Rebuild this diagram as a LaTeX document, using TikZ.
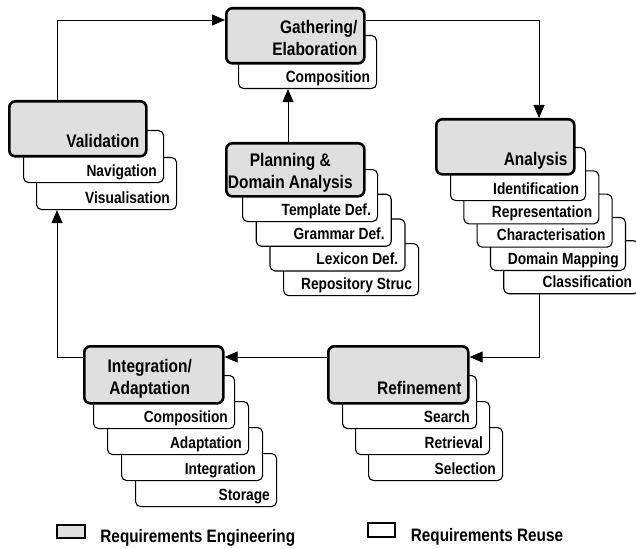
\documentclass[tikz,border=0pt]{standalone}
\usepackage{fontspec}
\setmainfont{Liberation Sans}[FakeStretch=0.85]
\usetikzlibrary{arrows.meta,positioning}

\tikzset{
  engbox/.style={draw=black, line width=2.6pt, rounded corners=6pt, fill=gray!25, anchor=north west, inner sep=0pt},
  reusebox/.style={draw=black, line width=1.1pt, rounded corners=5pt, fill=white, anchor=north west, inner sep=0pt, minimum height=53pt},
  mainlabel/.style={font=\fontsize{18.2}{22.5}\selectfont\bfseries, inner sep=0pt, align=right, anchor=base east, xshift=-8pt, yshift=10pt},
  sublabel/.style={font=\fontsize{16.2}{18}\selectfont\bfseries, inner sep=0pt, anchor=base east, xshift=-7pt, yshift=7pt},
  legendtext/.style={font=\fontsize{18}{20}\selectfont\bfseries, inner sep=0pt, anchor=base west},
  flow/.style={line width=0.9pt, -{Triangle[length=13pt, width=11pt]}},
}

\begin{document}
\begin{tikzpicture}[x=1pt, y=-1pt]
  \useasboundingbox (0,0) rectangle (636,548);

  % BOXES
  % gathering / elaboration
  \node[reusebox, minimum width=138pt] (gat1) at (238,35) {};
  \node[sublabel] (gat1t) at (gat1.south east) {Composition};
  \node[engbox, minimum width=138pt, minimum height=55pt] (gat) at (225,7) {};
  \node[mainlabel, yshift=-1pt] (gatt) at (gat.south east) {Gathering/\\Elaboration};

  % validation
  \foreach \i/\txt in {2/Visualisation,1/Navigation} {
    \node[reusebox, minimum width=140pt, minimum height=52pt] (val\i) at ({10+13*\i},{103+27*\i}) {};
    \node[sublabel] (val\i t) at (val\i.south east) {\txt};
  }
  \node[engbox, minimum width=137pt, minimum height=55pt] (val) at (8,100) {};
  \node[mainlabel] (valt) at (val.south east) {Validation};

  % planning & domain analysis
  \foreach \i/\txt in {4/Repository Struc,3/Lexicon Def.,2/Grammar Def.,1/Template Def.} {
    \node[reusebox, minimum width=135pt, minimum height=52pt] (pla\i) at ({228.3+13.7*\i},{144.3+24.7*\i}) {};
    \node[sublabel] (pla\i t) at (pla\i.south east) {\txt};
  }
  \node[engbox, minimum width=138pt, minimum height=53pt] (pla) at (225,142) {};
  \node[mainlabel, align=center, anchor=base, xshift=3pt, yshift=-1pt] (plat) at (pla.south) {Planning \&\\Domain Analysis};

  % analysis
  \foreach \i/\txt in {5/Classification,4/Domain Mapping,3/Characterisation,2/Representation,1/Identification} {
    \node[reusebox, minimum width=135pt] (ana\i) at ({436.7+13.3*\i},{123.7+23.3*\i}) {};
    \node[sublabel] (ana\i t) at (ana\i.south east) {\txt};
  }
  \node[engbox, minimum width=138pt, minimum height=55pt] (ana) at (435,118) {};
  \node[mainlabel] (anat) at (ana.south east) {Analysis};

  % integration / adaptation
  \foreach \i/\txt in {4/Storage,3/Integration,2/Adaptation,1/Composition} {
    \node[reusebox, minimum width=141pt] (int\i) at ({79+14*\i},{349+26*\i}) {};
    \node[sublabel] (int\i t) at (int\i.south east) {\txt};
  }
  \node[engbox, minimum width=139pt, minimum height=57pt] (int) at (83,345) {};
  \node[mainlabel, align=center, anchor=base, xshift=4pt] (intt) at (int.south) {Integration/\\Adaptation};

  % refinement
  \foreach \i/\txt in {3/Selection,2/Retrieval,1/Search} {
    \node[reusebox, minimum width=134pt] (ref\i) at ({329+13*\i},{349+26*\i}) {};
    \node[sublabel] (ref\i t) at (ref\i.south east) {\txt};
  }
  \node[engbox, minimum width=140pt, minimum height=57pt] (ref) at (327,345) {};
  \node[mainlabel] (reft) at (ref.south east) {Refinement};

  % ARROWS
  \coordinate (top) at (57,20);
  \coordinate (right) at (539,20);
  \coordinate (low) at (539,357);
  \coordinate (left) at (57,357);
  \coordinate (mid) at (288,0);
  \draw[flow] (top |- val.north) |- (gat.west |- top);
  \draw[flow] (gat.east |- right) -| (right |- ana.north);
  \draw[flow] (mid |- pla.north) -- (mid |- gat1.south);
  \draw[flow] (low |- ana5.south) |- (ref.east |- low);
  \draw[flow] (ref.west |- low) -- (int.east |- low);
  \draw[flow] (int.west |- left) -| (left |- val2.south);

  % LEGEND
  \node[engbox, rounded corners=0pt, line width=2.5pt, anchor=center, minimum width=28pt, minimum height=13pt] (legeng) at (71,531.5) {};
  \node[legendtext] (legengt) at ([xshift=14pt, yshift=-3pt]legeng.south east) {Requirements Engineering};
  \node[draw=black, line width=1.3pt, anchor=center, inner sep=0pt, minimum width=27pt, minimum height=14pt] (legreu) at (381.5,530) {};
  \node[legendtext] (legreut) at ([xshift=15pt, yshift=-4pt]legreu.south east) {Requirements Reuse};
\end{tikzpicture}
\end{document}
